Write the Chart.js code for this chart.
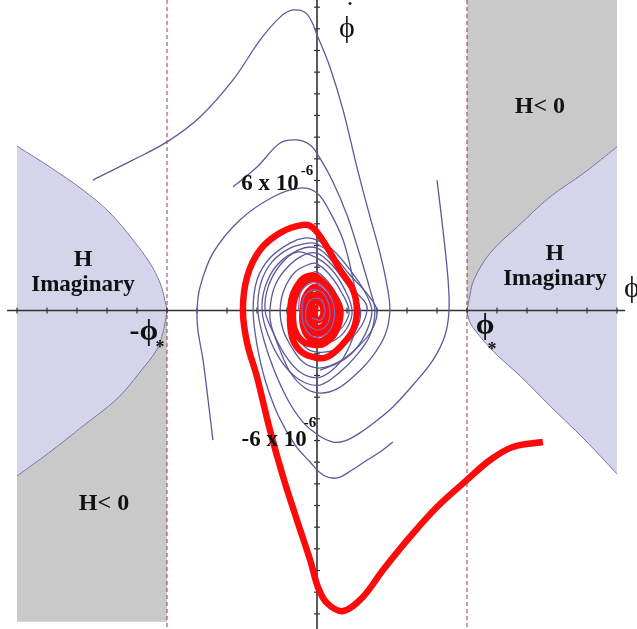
<!DOCTYPE html>
<html>
<head>
<meta charset="utf-8">
<script src="https://cdn.jsdelivr.net/npm/chart.js@4.4.1/dist/chart.umd.min.js"></script>
<style>
html, body { margin: 0; padding: 0; background: #fff; }
</style>
</head>
<body>
<canvas id="phaseChart" width="637" height="629"></canvas>
<script>
// plot window (phi in units of phi*/5, phidot in units of 1e-6)
var xMin = -10.567, xMax = 10.667;
var yMin = -14.70, yMax = 14.33;
var shadeTop = 14.33, shadeBottom = -14.37;
var phiStar = 5;

var xTicks = [-10, -9, -8, -7, -6, -5, -4, -3, -2, -1, 1, 2, 3, 4, 5, 6, 7, 8, 9, 10];
var yTicks = [-14, -13, -12, -11, -10, -9, -8, -7, -6, -5, -4, -3, -2, -1, 1, 2, 3, 4, 5, 6, 7, 8, 9, 10, 11, 12, 13, 14];

// borders of the "H imaginary" regions
var leftUpperEdge = [[-10, 7.59], [-8.9, 6.62], [-7.8, 5.56], [-6.9, 4.5], [-6.13, 3.25], [-5.57, 2.19], [-5.23, 1.27], [-5.07, 0.48], [-5, 0]];
var leftLowerEdge = [[-5, 0], [-5.05, -0.45], [-5.13, -0.99], [-5.33, -1.78], [-5.9, -2.84], [-6.67, -4.08], [-7.8, -5.33], [-8.9, -6.53], [-10, -7.64]];
var rightUpperEdge = [[10, 7.55], [8.9, 6.35], [7.77, 5.24], [6.67, 3.85], [5.77, 2.65], [5.23, 1.41], [5.07, 0.5], [5, 0]];
var rightLowerEdge = [[5, 0], [5.07, -0.45], [5.23, -0.85], [5.9, -1.92], [6.77, -3.02], [7.77, -4.41], [8.9, -5.93], [10, -7.54]];

// trajectories (blue)
var trajA = [[-7.47, 6.02], [-6.13, 6.95], [-5, 7.78], [-3.9, 8.93], [-2.8, 10.64], [-1.9, 12.48], [-1.23, 13.54], [-0.8, 13.87], [-0.33, 13.68], [0.03, 12.62], [0.43, 11.24], [0.87, 9.25], [1.33, 6.62], [1.77, 4.31], [2.1, 2.65], [2.33, 1.18], [2.43, 0], [2.27, -1.13], [1.83, -2.15], [1.27, -2.98], [0.67, -3.62], [0.1, -3.81], [-0.4, -3.58], [-0.9, -2.84], [-1.3, -1.59], [-1.53, -0.67], [-1.57, 0], [-1.43, 1.04], [-1.07, 1.87], [-0.5, 2.52], [0, 2.65], [0.5, 2.1], [1.03, 1.18], [1.6, 0.39], [1.67, 0], [1.5, -0.67], [1.1, -1.36], [0.6, -1.82], [0, -1.92], [-0.4, -1.68], [-0.73, -1.04], [-0.93, -0.44], [-0.97, 0], [-0.87, 0.81], [-0.57, 1.41], [-0.17, 1.73], [0, 1.78], [0.37, 1.32], [0.7, 0.62], [0.87, 0], [0.73, -0.53], [0.43, -0.9]];
var trajB = [[-2.8, 5.7], [-2, 6.62], [-1.23, 7.73], [-0.67, 7.87], [-0.23, 7.64], [0.03, 7.18], [0.5, 6.02], [1, 4.41], [1.43, 2.56], [1.77, 0.95], [1.93, 0], [1.77, -1.13], [1.33, -2.05], [0.77, -2.84], [0.1, -3.44], [-0.57, -3.21], [-1.17, -2.38], [-1.63, -1.13], [-1.83, 0], [-1.73, 1.08], [-1.33, 2.1], [-0.67, 2.7], [0, 2.42], [0.5, 1.87], [0.93, 0.95], [1.17, 0], [1, -0.81], [0.6, -1.36], [0, -1.59]];
var trajC = [[-3.47, -5.98], [-3.63, -4.13], [-3.8, -2.28], [-3.97, -0.9], [-4, 0], [-3.9, 1.08], [-3.47, 2.65], [-2.57, 4.18], [-1.47, 5.24], [-0.57, 5.65], [0, 5.42], [0.43, 4.55], [0.87, 3.25], [1.17, 1.64], [1.37, 0], [1.27, -0.9], [1.1, -1.59], [0.83, -2.28], [0.43, -2.84], [0, -3.11], [-0.57, -2.84], [-1.07, -2.05], [-1.5, -0.9], [-1.73, 0], [-1.63, 1.08], [-1.23, 2.1], [-0.63, 2.79], [0, 2.88], [0.53, 2.24], [1.03, 1.18], [1.43, 0.12], [1.37, -0.67], [0.93, -1.59], [0.43, -2.15], [0, -2.28]];
var trajD = [[4, 6.02], [4.2, 3.71], [4.37, 1.41], [4.4, 0], [4.27, -1.13], [3.87, -2.28], [3.2, -3.44], [2.53, -4.45], [1.93, -5.15], [1.43, -5.65], [0.93, -6.02], [0.53, -6.07], [0.03, -5.75], [-0.47, -5.15], [-0.97, -4.13], [-1.43, -2.75], [-1.77, -1.36], [-1.97, 0], [-1.87, 1.27], [-1.5, 2.24], [-0.9, 2.88], [-0.3, 3.11], [0, 3.07], [0.53, 2.56], [1.1, 1.64], [1.7, 0.72], [2, 0], [1.83, -0.9], [1.43, -1.59], [0.93, -2.19], [0.43, -2.56], [0, -2.65], [-0.47, -2.38], [-0.83, -1.73], [-1.13, -0.9], [-1.23, 0], [-1.1, 0.95], [-0.73, 1.78], [-0.23, 2.15], [0, 2.15], [0.43, 1.64], [0.83, 0.81], [1.07, 0], [0.9, -0.67], [0.53, -1.13]];
var trajE = [[2.53, -6.07], [2.1, -6.53], [1.67, -6.9], [1.17, -7.36], [0.67, -7.73], [0.2, -7.59], [-0.23, -6.99], [-0.73, -6.21], [-1.3, -4.82], [-1.73, -3.21], [-2, -1.59], [-2.13, 0], [-2, 1.41], [-1.57, 2.42], [-0.9, 3.11], [-0.4, 3.35], [0, 3.25], [0.53, 2.79], [1.1, 1.87], [1.6, 0.85], [1.83, 0], [1.67, -0.9], [1.27, -1.82], [0.77, -2.38], [0.1, -2.75]];
var trajCore = [[-0.62, 0], [-0.55, 0.8], [-0.3, 1.2], [0, 1.25], [0.38, 0.8], [0.58, 0], [0.48, -0.78], [0.15, -1.2], [-0.2, -1.15], [-0.45, -0.65], [-0.5, 0], [-0.43, 0.62], [-0.13, 0.95], [0.23, 0.76], [0.43, 0], [0.33, -0.67], [0, -0.9], [-0.33, -0.6], [-0.37, 0], [-0.23, 0.48], [0.1, 0.53], [0.27, 0], [0.13, -0.44], [-0.17, -0.35]];

// highlighted trajectory (red)
var trajRed = [[7.53, -6.07], [6.53, -6.3], [5.77, -6.9], [5, -7.82], [4, -9.07], [3.1, -10.45], [2.2, -11.98], [1.53, -13.22], [0.87, -13.87], [0.33, -13.5], [0.03, -12.76], [-0.23, -11.51], [-0.67, -9.67], [-1.13, -7.68], [-1.57, -5.51], [-2, -3.07], [-2.33, -1.5], [-2.47, 0], [-2.33, 1.55], [-1.9, 2.79], [-1.23, 3.58], [-0.47, 3.95], [-0.13, 3.81], [0.33, 2.93], [0.77, 1.87], [1.2, 0.95], [1.33, 0], [1.2, -0.9], [0.77, -1.68], [0.33, -2.15], [0, -2.19], [-0.47, -1.96], [-0.8, -1.36], [-0.9, -0.44], [-0.83, 0.62], [-0.57, 1.32], [-0.3, 1.59], [0, 1.55], [0.43, 0.95], [0.73, 0.25], [0.77, -0.35], [0.6, -1.04], [0.27, -1.5], [0, -1.59], [-0.45, -1.45], [-0.75, -0.85], [-0.8, 0], [-0.72, 0.65], [-0.45, 1.25], [-0.15, 1.45], [0.15, 1.35], [0.5, 0.85], [0.68, 0.15], [0.68, -0.45], [0.5, -1.05], [0.2, -1.38], [0, -1.42], [-0.3, -1.2], [-0.47, -0.65], [-0.48, 0], [-0.4, 0.62], [-0.18, 1.02], [0, 1.05], [0.3, 0.65], [0.52, 0], [0.45, -0.65], [0.2, -1.0], [0, -1.07], [-0.25, -0.88], [-0.36, -0.35], [-0.34, 0.2], [-0.22, 0.6], [0, 0.72], [0.25, 0.45], [0.4, 0], [0.32, -0.5], [0.12, -0.78], [-0.08, -0.75], [-0.22, -0.45], [-0.22, 0.1], [-0.1, 0.42], [0.1, 0.4], [0.22, 0], [0.15, -0.35], [0, -0.45], [-0.1, -0.2], [-0.05, 0.1], [0.05, 0.1]];

var textLabels = [
    { text: 'ϕ', x: 1.0, y: 13.0, font: '30px "Liberation Serif"' },
    { text: '•', x: 1.1, y: 14.1, font: '13px "Liberation Serif"' },
    { text: 'ϕ', x: 10.5, y: 1.0, font: '30px "Liberation Serif"' },
    { text: 'H< 0', x: 7.43, y: 9.39, font: 'bold 24px "Liberation Serif"' },
    { text: 'H', x: 7.93, y: 2.61, font: 'bold 24px "Liberation Serif"' },
    { text: 'Imaginary', x: 7.93, y: 1.45, font: 'bold 23px "Liberation Serif"' },
    { text: 'H', x: -7.8, y: 2.33, font: 'bold 24px "Liberation Serif"' },
    { text: 'Imaginary', x: -7.8, y: 1.18, font: 'bold 23px "Liberation Serif"' },
    { text: 'H< 0', x: -7.1, y: -8.93, font: 'bold 24px "Liberation Serif"' },
    { text: '6 x 10', x: -1.57, y: 5.84, font: 'bold 23px "Liberation Serif"' },
    { text: '-6', x: -0.33, y: 6.44, font: 'bold 15px "Liberation Serif"' },
    { text: '-6 x 10', x: -1.43, y: -5.98, font: 'bold 23px "Liberation Serif"' },
    { text: '-6', x: -0.23, y: -5.19, font: 'bold 15px "Liberation Serif"' },
    { text: '-ϕ', x: -5.77, y: -0.99, font: 'bold 30px "Liberation Serif"' },
    { text: '*', x: -5.23, y: -1.75, font: 'bold 18px "Liberation Serif"' },
    { text: 'ϕ', x: 5.6, y: -0.72, font: 'bold 30px "Liberation Serif"' },
    { text: '*', x: 5.83, y: -1.85, font: 'bold 18px "Liberation Serif"' }
];

function pts(arr) {
    return arr.map(function (p) { return { x: p[0], y: p[1] }; });
}

var lavender = '#d4d4ea';
var grey = '#c9c9c9';
var edgeColor = '#7676a6';
var blue = '#5a5a9c';

var leftShade = leftUpperEdge.concat(leftLowerEdge.slice(1));
var rightShade = rightUpperEdge.concat(rightLowerEdge.slice(1));
var leftGrey = leftLowerEdge.concat([[-10, shadeBottom], [-phiStar, shadeBottom]]);
var rightGrey = [[10, shadeTop]].concat(rightUpperEdge, [[phiStar, shadeTop]]);

function region(arr, color) {
    return { data: pts(arr), fill: 'shape', backgroundColor: color, borderWidth: 0, pointRadius: 0, tension: 0, order: 30 };
}
function curve(arr, color, width, order) {
    return { data: pts(arr), borderColor: color, borderWidth: width, pointRadius: 0, tension: 0.35, fill: false, order: order };
}

var datasets = [
    region(leftShade, lavender),
    region(rightShade, lavender),
    region(leftGrey, grey),
    region(rightGrey, grey),
    curve(leftUpperEdge, edgeColor, 1, 25),
    curve(leftLowerEdge, edgeColor, 1, 25),
    curve(rightUpperEdge, edgeColor, 1, 25),
    curve(rightLowerEdge, edgeColor, 1, 25),
    { data: [{ x: -phiStar, y: yMax }, { x: -phiStar, y: yMin }], borderColor: '#b0303e', borderWidth: 1, borderDash: [4, 3], pointRadius: 0, order: 24 },
    { data: [{ x: phiStar, y: yMax }, { x: phiStar, y: yMin }], borderColor: '#b0303e', borderWidth: 1, borderDash: [4, 3], pointRadius: 0, order: 24 },
    { data: [{ x: -10.33, y: 0 }, { x: 10.27, y: 0 }], borderColor: '#333', borderWidth: 1.6, pointRadius: 0, order: 20 },
    { data: [{ x: 0, y: yMax }, { x: 0, y: yMin }], borderColor: '#333', borderWidth: 1.6, pointRadius: 0, order: 20 },
    { data: xTicks.map(function (v) { return { x: v, y: 0 }; }), showLine: false, pointStyle: 'line', pointRotation: 90, pointRadius: 3, pointBorderColor: '#333', pointBorderWidth: 1.2, order: 20 },
    { data: yTicks.map(function (v) { return { x: 0, y: v }; }), showLine: false, pointStyle: 'line', pointRotation: 0, pointRadius: 3, pointBorderColor: '#333', pointBorderWidth: 1.2, order: 20 },
    curve(trajA, blue, 1.3, 10),
    curve(trajB, blue, 1.3, 10),
    curve(trajC, blue, 1.3, 10),
    curve(trajD, blue, 1.3, 10),
    curve(trajE, blue, 1.3, 10),
    curve(trajRed, '#ff0a0a', 6.5, 5),
    curve(trajCore, '#7a6ac8', 1.2, 2)
];

var labelPlugin = {
    id: 'textLabels',
    afterDatasetsDraw: function (chart) {
        var ctx = chart.ctx;
        var xs = chart.scales.x, ys = chart.scales.y;
        ctx.save();
        ctx.fillStyle = '#111';
        ctx.textAlign = 'center';
        ctx.textBaseline = 'middle';
        textLabels.forEach(function (l) {
            ctx.font = l.font;
            ctx.fillText(l.text, xs.getPixelForValue(l.x), ys.getPixelForValue(l.y));
        });
        ctx.restore();
    }
};

var ctx = document.getElementById('phaseChart').getContext('2d');
var phaseChart = new Chart(ctx, {
    type: 'line',
    data: { datasets: datasets },
    options: {
        responsive: false,
        animation: false,
        devicePixelRatio: 1,
        layout: { padding: 0, autoPadding: false },
        plugins: { legend: { display: false }, tooltip: { enabled: false } },
        scales: {
            x: { type: 'linear', min: xMin, max: xMax, display: false },
            y: { type: 'linear', min: yMin, max: yMax, display: false }
        }
    },
    plugins: [labelPlugin]
});
</script>
</body>
</html>
